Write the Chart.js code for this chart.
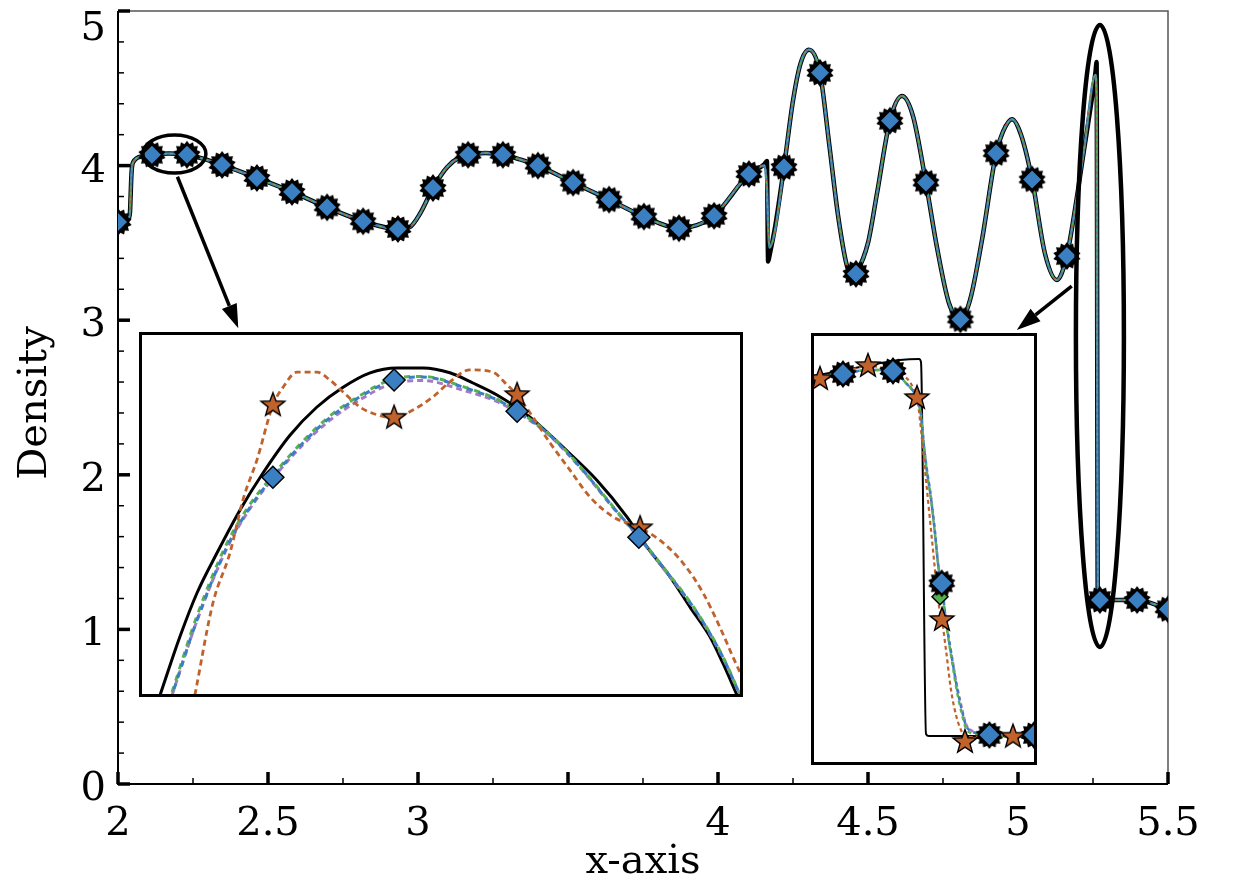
<!DOCTYPE html>
<html>
<head>
<meta charset="utf-8">
<script src="https://cdn.jsdelivr.net/npm/chart.js@4.4.1/dist/chart.umd.min.js"></script>
<style>
  html, body { margin: 0; padding: 0; background: #fff; }
  #wrap { position: relative; width: 1240px; height: 886px; }
  .inset { position: absolute; border: 3px solid #000; background: #fff; }
  .inset canvas { display: block; }
</style>
</head>
<body>
<div id="wrap">
  <canvas id="main" width="1240" height="886"></canvas>
  <div class="inset" style="left:139px;top:332px;"><canvas id="insetL" width="598" height="359"></canvas></div>
  <div class="inset" style="left:811px;top:333px;"><canvas id="insetR" width="220" height="426"></canvas></div>
</div>
<script>
// ── Main plot data ───────────────────────────────────────────
const xMain = [2.0, 2.033, 2.04, 2.042, 2.045, 2.05, 2.083, 2.113, 2.17, 2.23, 2.283, 2.347, 2.463, 2.58, 2.697,
  2.817, 2.933, 2.973, 3.007, 3.05, 3.097, 3.14, 3.167, 3.225, 3.283, 3.34, 3.4, 3.517, 3.637, 3.753, 3.87,
  3.93, 3.987, 4.103, 4.155, 4.163, 4.167, 4.172, 4.19, 4.22, 4.25, 4.275, 4.303, 4.34, 4.37, 4.40, 4.43,
  4.45, 4.46, 4.50, 4.53, 4.573, 4.613, 4.65, 4.693, 4.73, 4.77, 4.808, 4.84, 4.88, 4.927, 4.95, 4.98, 5.01,
  5.047, 5.09, 5.13, 5.145, 5.163, 5.22, 5.258, 5.262, 5.266, 5.273, 5.397, 5.5];
const refMain = [3.635, 3.648, 3.70, 3.80, 3.95, 4.02, 4.06, 4.07, 4.078, 4.07, 4.045, 4.004, 3.92, 3.83, 3.73,
  3.64, 3.59, 3.603, 3.69, 3.855, 3.99, 4.055, 4.07, 4.082, 4.07, 4.04, 4.0, 3.89, 3.78, 3.67, 3.595,
  3.615, 3.675, 3.945, 4.01, 4.03, 3.38, 3.42, 3.60, 3.99, 4.42, 4.66, 4.75, 4.60, 4.15, 3.68, 3.35,
  3.28, 3.30, 3.50, 3.82, 4.29, 4.45, 4.32, 3.89, 3.47, 3.11, 3.005, 3.13, 3.52, 4.08, 4.22, 4.30, 4.20,
  3.91, 3.43, 3.26, 3.30, 3.415, 4.10, 4.60, 4.67, 1.19, 1.19, 1.19, 1.13];
const numMain = [3.635, 3.648, 3.70, 3.80, 3.95, 4.02, 4.06, 4.07, 4.078, 4.07, 4.045, 4.004, 3.92, 3.83, 3.73,
  3.64, 3.59, 3.603, 3.69, 3.855, 3.99, 4.055, 4.07, 4.082, 4.07, 4.04, 4.0, 3.89, 3.78, 3.67, 3.595,
  3.615, 3.675, 3.945, 4.00, 3.85, 3.62, 3.47, 3.58, 3.99, 4.42, 4.66, 4.75, 4.60, 4.15, 3.68, 3.35,
  3.28, 3.30, 3.50, 3.82, 4.29, 4.45, 4.32, 3.89, 3.47, 3.11, 3.005, 3.13, 3.52, 4.08, 4.22, 4.30, 4.20,
  3.91, 3.43, 3.26, 3.30, 3.415, 4.10, 4.586, 4.45, 1.22, 1.19, 1.19, 1.13];
const markX = [2.0, 2.113, 2.23, 2.347, 2.463, 2.58, 2.697, 2.817, 2.933, 3.05, 3.167, 3.283, 3.4, 3.517, 3.637,
  3.753, 3.87, 3.987, 4.103, 4.22, 4.34, 4.46, 4.573, 4.693, 4.808, 4.927, 5.047, 5.163, 5.273, 5.397, 5.5];
const markY = [3.635, 4.07, 4.07, 4.004, 3.92, 3.83, 3.73, 3.64, 3.59, 3.855, 4.07, 4.07, 4.0, 3.89, 3.78,
  3.67, 3.595, 3.675, 3.945, 3.99, 4.60, 3.30, 4.29, 3.89, 3.005, 4.08, 3.91, 3.415, 1.19, 1.19, 1.13];

// ── Left inset (zoom near the first plateau) ─────────────────
const xRefL = [2.1067, 2.1133, 2.1190, 2.1257, 2.1333, 2.1410, 2.1500, 2.1590, 2.1677, 2.1767, 2.1857, 2.1943,
  2.2033, 2.2110, 2.2190, 2.2300, 2.2410, 2.2523, 2.2623, 2.2690, 2.2767, 2.2833, 2.2900, 2.2943, 2.2990];
const refL = [4.0400, 4.0497, 4.0570, 4.0637, 4.0708, 4.0770, 4.0833, 4.0880, 4.0913, 4.0937, 4.0945, 4.0945,
  4.0937, 4.0920, 4.0900, 4.0863, 4.0813, 4.0758, 4.0697, 4.0647, 4.0597, 4.0547, 4.0497, 4.0453, 4.0400];
const xNumL = [2.1107, 2.1190, 2.1290, 2.1367, 2.1443, 2.1543, 2.1633, 2.1733, 2.1847, 2.1943, 2.2077, 2.2190,
  2.2257, 2.2357, 2.2467, 2.2577, 2.2663, 2.2743, 2.2857, 2.2943, 2.3000];
const blueL = [4.0400, 4.0525, 4.0647, 4.0713, 4.0763, 4.0820, 4.0862, 4.0897, 4.0925, 4.0930, 4.0913, 4.0892,
  4.0873, 4.0837, 4.0780, 4.0713, 4.0663, 4.0613, 4.0537, 4.0463, 4.0400];
const greenL = [4.0405, 4.0532, 4.0653, 4.0718, 4.0766, 4.0823, 4.0865, 4.0899, 4.0927, 4.0931, 4.0914, 4.0893,
  4.0874, 4.0838, 4.0781, 4.0714, 4.0664, 4.0614, 4.0538, 4.0464, 4.0401];
const purpleL = [4.0400, 4.0524, 4.0645, 4.0711, 4.0761, 4.0817, 4.0858, 4.0892, 4.0920, 4.0924, 4.0908, 4.0889,
  4.0871, 4.0836, 4.0779, 4.0712, 4.0662, 4.0612, 4.0536, 4.0462, 4.0400];
const xOrL = [2.1183, 2.1243, 2.1300, 2.1343, 2.1390, 2.1443, 2.1477, 2.1523, 2.1590, 2.1633, 2.1677, 2.1733,
  2.1790, 2.1847, 2.1910, 2.1977, 2.2033, 2.2100, 2.2177, 2.2223, 2.2257, 2.2310, 2.2367, 2.2433, 2.2500,
  2.2577, 2.2667, 2.2733, 2.2810, 2.2877, 2.2933, 2.2977, 2.3007];
const orangeL = [4.0400, 4.0553, 4.0637, 4.0725, 4.0792, 4.0883, 4.0913, 4.0938, 4.0938, 4.0925, 4.0905, 4.0880,
  4.0867, 4.0862, 4.0875, 4.0897, 4.0922, 4.0942, 4.0938, 4.0917, 4.0900, 4.0863, 4.0820, 4.0775, 4.0730,
  4.0697, 4.0678, 4.0658, 4.0620, 4.0570, 4.0513, 4.0463, 4.0430];
const xStarL = [2.1443, 2.1847, 2.2257, 2.2667];
const yStarL = [4.0883, 4.0862, 4.0900, 4.0678];
const xDiaL = [2.1443, 2.1847, 2.2257, 2.2663];
const yDiaL = [4.0763, 4.0925, 4.0873, 4.0663];

// ── Right inset (zoom on the shock) ──────────────────────────
const xRefR = [5.2000, 5.2140, 5.2290, 5.2440, 5.2535, 5.2545, 5.2570, 5.2585, 5.3110];
const refR = [4.468, 4.514, 4.568, 4.614, 4.623, 4.595, 1.214, 1.195, 1.195];
const xNumR = [5.2000, 5.2040, 5.2155, 5.2280, 5.2405, 5.2465, 5.2524, 5.2544, 5.2560, 5.2574, 5.2594, 5.2615,
  5.2632, 5.2649, 5.2665, 5.2682, 5.2704, 5.2724, 5.2749, 5.2769, 5.2790, 5.2840, 5.2887, 5.3005, 5.3110];
const blueR = [4.450, 4.459, 4.486, 4.523, 4.514, 4.414, 4.265, 4.129, 3.825, 3.614, 3.371, 3.038,
  2.735, 2.584, 2.311, 2.098, 1.856, 1.644, 1.432, 1.295, 1.244, 1.220, 1.205, 1.195, 1.205];
const greenR = [4.450, 4.459, 4.486, 4.523, 4.514, 4.414, 4.262, 4.120, 3.810, 3.600, 3.360, 3.030,
  2.730, 2.520, 2.290, 2.080, 1.830, 1.610, 1.400, 1.270, 1.225, 1.210, 1.200, 1.195, 1.200];
const purpleR = [4.450, 4.459, 4.486, 4.523, 4.514, 4.414, 4.268, 4.135, 3.835, 3.625, 3.380, 3.050,
  2.745, 2.595, 2.325, 2.110, 1.870, 1.660, 1.450, 1.310, 1.255, 1.228, 1.210, 1.198, 1.205];
const xOrR = [5.2000, 5.2040, 5.2155, 5.2280, 5.2405, 5.2525, 5.2540, 5.2555, 5.2570, 5.2590, 5.2610, 5.2630,
  5.2650, 5.2670, 5.2695, 5.2720, 5.2745, 5.2765, 5.2890, 5.3005, 5.3110];
const orangeR = [4.445, 4.441, 4.495, 4.559, 4.505, 4.268, 4.068, 3.795, 3.523, 3.159, 2.795, 2.432,
  2.250, 1.977, 1.614, 1.386, 1.250, 1.186, 1.186, 1.189, 1.186];
const xStarR = [5.2040, 5.2280, 5.2525, 5.2650, 5.2765, 5.3005];
const yStarR = [4.441, 4.559, 4.268, 2.250, 1.141, 1.189];
const xDiaR = [5.2155, 5.2405, 5.2649, 5.2887, 5.3110];
const yDiaR = [4.486, 4.514, 2.584, 1.205, 1.205];
const xGreenMarkR = [5.2640];
const yGreenMarkR = [2.462];

// ── Axes ─────────────────────────────────────────────────────
const xMajor = [2, 2.5, 3, 3.5, 4, 4.5, 5, 5.5];
const xLabels = ['2', '2.5', '3', '', '4', '4.5', '5', '5.5'];
const xMinor = [2.25, 2.75, 3.25, 3.75, 4.25, 4.75, 5.25];
const yMajor = [0, 1, 2, 3, 4, 5];
const yLabels = ['0', '1', '2', '3', '4', '5'];
const yMinor = [0.2, 0.4, 0.6, 0.8, 1.2, 1.4, 1.6, 1.8, 2.2, 2.4, 2.6, 2.8, 3.2, 3.4, 3.6, 3.8, 4.2, 4.4, 4.6, 4.8];

// ── Call-outs (data coordinates of the main plot) ────────────
const ellipses = [
  { cx: 2.188, cy: 4.075, rx: 0.105, ry: 0.123, w: 3.5 },
  { cx: 5.273, cy: 2.898, rx: 0.080, ry: 2.012, w: 4.5 },
];
const arrows = [
  { from: [2.198, 3.928], to: [2.401, 2.948] },
  { from: [5.179, 3.221], to: [4.996, 2.937] },
];

const BLUE = '#3a7fc1';
const ORANGE = '#c0622b';
const GREEN = '#55b24f';
const PURPLE = '#a878c8';
const FONT = '40px "DejaVu Serif"';

// ── Marker images ────────────────────────────────────────────
function makeStar(outer, inner, n, fill, lw) {
  const size = Math.ceil(outer * 2 + lw * 2 + 2);
  const c = document.createElement("canvas");
  c.width = size; c.height = size;
  const g = c.getContext("2d");
  g.translate(size / 2, size / 2);
  g.beginPath();
  for (let i = 0; i < n * 2; i++) {
    const r = i % 2 ? inner : outer;
    const a = -Math.PI / 2 + i * Math.PI / n;
    g.lineTo(Math.cos(a) * r, Math.sin(a) * r);
  }
  g.closePath();
  g.fillStyle = fill;
  g.fill();
  if (lw) { g.lineWidth = lw; g.strokeStyle = "#000"; g.stroke(); }
  return c;
}
const burst = makeStar(14, 11, 14, "#000", 0);
const star5 = makeStar(12.5, 5.2, 5, ORANGE, 1.4);

// ── Dataset helpers ──────────────────────────────────────────
function pts(xs, ys) { return xs.map((x, i) => ({ x, y: ys[i] })); }

function curve(xs, ys, color, width, dash, order, offset) {
  return {
    data: pts(xs, ys), showLine: true, borderColor: color, borderWidth: width,
    borderDash: dash || [], borderDashOffset: offset || 0, pointRadius: 0, pointHoverRadius: 0,
    cubicInterpolationMode: "monotone", clip: 0, order,
  };
}

function marks(xs, ys, style, radius, fill, order) {
  return {
    data: pts(xs, ys), showLine: false, pointStyle: style, pointRadius: radius, pointHoverRadius: radius,
    pointBackgroundColor: fill, pointBorderColor: "#000", pointBorderWidth: 1.5, clip: 0, order,
  };
}

function baseOptions(xr, yr, padding) {
  return {
    responsive: false, animation: false, events: [],
    layout: { padding: padding || 0, autoPadding: false },
    plugins: { legend: { display: false }, tooltip: { enabled: false } },
    scales: {
      x: { type: "linear", min: xr[0], max: xr[1], display: false },
      y: { type: "linear", min: yr[0], max: yr[1], display: false },
    },
  };
}

// ── Frame, ticks and labels of the main plot ─────────────────
const axesPlugin = {
  id: "axesFrame",
  beforeDatasetsDraw(chart) {
    const { ctx, chartArea: a, scales: { x, y } } = chart;
    ctx.save();
    ctx.strokeStyle = "#555";
    ctx.lineWidth = 1.5;
    ctx.beginPath();
    ctx.moveTo(a.left, a.top); ctx.lineTo(a.right, a.top); ctx.lineTo(a.right, a.bottom);
    ctx.stroke();

    ctx.strokeStyle = "#000";
    ctx.lineWidth = 2;
    ctx.beginPath();
    ctx.moveTo(a.left, a.top); ctx.lineTo(a.left, a.bottom); ctx.lineTo(a.right, a.bottom);
    ctx.stroke();

    const tick = (x1, y1, x2, y2, w) => {
      ctx.lineWidth = w;
      ctx.beginPath(); ctx.moveTo(x1, y1); ctx.lineTo(x2, y2); ctx.stroke();
    };
    xMajor.forEach(v => { const p = x.getPixelForValue(v); tick(p, a.bottom, p, a.bottom - 12, 3.5); });
    xMinor.forEach(v => { const p = x.getPixelForValue(v); tick(p, a.bottom, p, a.bottom - 6, 1.5); });
    yMajor.forEach(v => { const p = y.getPixelForValue(v); tick(a.left, p, a.left + 12, p, 3.5); });
    yMinor.forEach(v => { const p = y.getPixelForValue(v); tick(a.left, p, a.left + 6, p, 1.5); });

    ctx.fillStyle = "#000";
    ctx.font = FONT;
    ctx.textBaseline = "alphabetic";
    ctx.textAlign = "center";
    xMajor.forEach((v, i) => ctx.fillText(xLabels[i], x.getPixelForValue(v), a.bottom + 51));
    ctx.textAlign = "right";
    yMajor.forEach((v, i) => {
      const base = Math.max(y.getPixelForValue(v) + 16, 40);
      ctx.fillText(yLabels[i], a.left - 12, base);
    });

    ctx.textAlign = "center";
    ctx.fillText("x-axis", (a.left + a.right) / 2, 873);
    ctx.translate(46, 403);
    ctx.rotate(-Math.PI / 2);
    ctx.fillText("Density", 0, 0);
    ctx.restore();
  },
  afterDatasetsDraw(chart) {
    const { ctx, scales: { x, y } } = chart;
    ctx.save();
    ctx.strokeStyle = "#000";
    ctx.fillStyle = "#000";
    ellipses.forEach(e => {
      const cx = x.getPixelForValue(e.cx), cy = y.getPixelForValue(e.cy);
      const rx = x.getPixelForValue(e.cx + e.rx) - cx;
      const ry = cy - y.getPixelForValue(e.cy + e.ry);
      ctx.lineWidth = e.w;
      ctx.beginPath(); ctx.ellipse(cx, cy, rx, ry, 0, 0, Math.PI * 2); ctx.stroke();
    });
    arrows.forEach(ar => {
      const x0 = x.getPixelForValue(ar.from[0]), y0 = y.getPixelForValue(ar.from[1]);
      const x1 = x.getPixelForValue(ar.to[0]), y1 = y.getPixelForValue(ar.to[1]);
      const ang = Math.atan2(y1 - y0, x1 - x0);
      const hl = 24, hw = 8;
      const bx = x1 - Math.cos(ang) * hl, by = y1 - Math.sin(ang) * hl;
      ctx.lineWidth = 3.5;
      ctx.beginPath(); ctx.moveTo(x0, y0); ctx.lineTo(bx, by); ctx.stroke();
      ctx.beginPath();
      ctx.moveTo(x1, y1);
      ctx.lineTo(bx + Math.sin(ang) * hw, by - Math.cos(ang) * hw);
      ctx.lineTo(bx - Math.sin(ang) * hw, by + Math.cos(ang) * hw);
      ctx.closePath(); ctx.fill();
    });
    ctx.restore();
  },
};

// ── Main chart ───────────────────────────────────────────────
new Chart(document.getElementById("main"), {
  type: "scatter",
  data: {
    datasets: [
      curve(xMain, refMain, "#000", 4.5, null, 10),
      curve(xMain, numMain, BLUE, 2.6, null, 9),
      curve(xMain, numMain, GREEN, 1.4, [3, 3], 8),
      curve(xMain, numMain, ORANGE, 1.2, [2, 4], 7, 2),
      marks(markX, markY, burst, 14, "#000", 2),
      marks(markX, markY, "rectRot", 10, BLUE, 1),
    ],
  },
  options: baseOptions([2, 5.5], [0, 5], { left: 118, top: 11, right: 72, bottom: 102 }),
  plugins: [axesPlugin],
});

// ── Left inset ───────────────────────────────────────────────
new Chart(document.getElementById("insetL"), {
  type: "scatter",
  data: {
    datasets: [
      curve(xRefL, refL, "#000", 3, null, 10),
      curve(xNumL, purpleL, PURPLE, 3, [6, 4], 9),
      curve(xNumL, greenL, GREEN, 3, [6, 6], 8),
      curve(xNumL, blueL, BLUE, 3, [6, 6], 7, 6),
      curve(xOrL, orangeL, ORANGE, 2.8, [6, 4], 6),
      marks(xStarL, yStarL, star5, 12, ORANGE, 2),
      marks(xDiaL, yDiaL, "rectRot", 11, BLUE, 1),
    ],
  },
  options: baseOptions([2.10067, 2.3], [4.04017, 4.1]),
});

// ── Right inset ──────────────────────────────────────────────
new Chart(document.getElementById("insetR"), {
  type: "scatter",
  data: {
    datasets: [
      curve(xRefR, refR, "#000", 2, null, 10),
      curve(xNumR, purpleR, PURPLE, 2.5, [4, 3], 9),
      curve(xNumR, greenR, GREEN, 2.5, [4, 4], 8),
      curve(xNumR, blueR, BLUE, 2.5, [4, 4], 7, 4),
      curve(xOrR, orangeR, ORANGE, 2.2, [4, 3], 6),
      marks(xGreenMarkR, yGreenMarkR, "rectRot", 8, GREEN, 4),
      marks(xDiaR, yDiaR, burst, 14, "#000", 3),
      marks(xStarR, yStarR, star5, 12, ORANGE, 2),
      marks(xDiaR, yDiaR, "rectRot", 11, BLUE, 1),
    ],
  },
  options: baseOptions([5.201, 5.311], [0.959, 4.832]),
});
</script>
</body>
</html>
